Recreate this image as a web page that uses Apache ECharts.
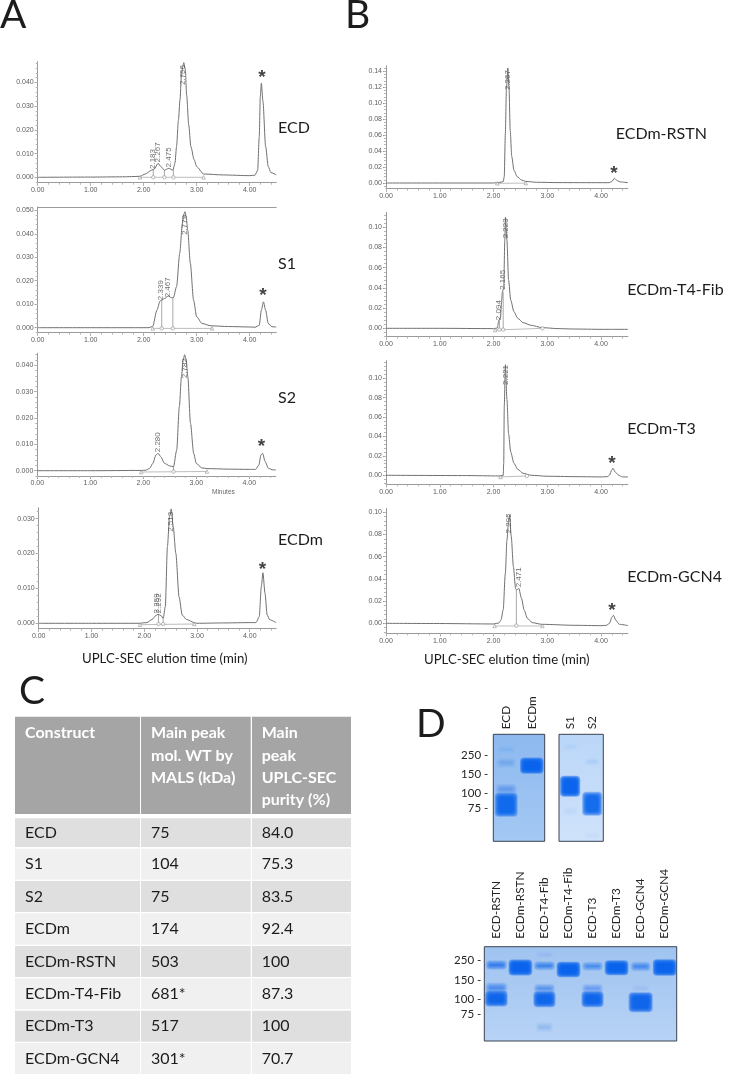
<!DOCTYPE html>
<html><head><meta charset="utf-8">
<style>html,body{margin:0;padding:0;background:#fff}#c{width:729px;height:1075px}</style>
<script src="https://cdn.jsdelivr.net/npm/echarts@6/dist/echarts.min.js"></script>
</head><body><div id="c"></div>
<script>
// ---- chromatogram traces: [minutes, absorbance]
const ecdTrace=[[0,0],[1,0.0001],[1.6,0.0002],[1.93,0.0004],[2.03,0.0014],[2.15,0.003],[2.2,0.0035],[2.27,0.0059],[2.33,0.0044],[2.39,0.003],[2.475,0.0038],[2.55,0.003],[2.59,0.006],[2.62,0.013],[2.655,0.024],[2.685,0.0326],[2.71,0.042],[2.735,0.0465],[2.756,0.0483],[2.785,0.0455],[2.81,0.0346],[2.85,0.022],[2.89,0.013],[2.95,0.0075],[3,0.0045],[3.13,0.0014],[3.5,0.001],[4,0.0007],[4.1,0.0009],[4.15,0.003],[4.18,0.017],[4.2,0.034],[4.22,0.0396],[4.25,0.032],[4.3,0.013],[4.35,0.0045],[4.4,0.002],[4.5,0.001]];
const s1Trace=[[0,0],[1,0],[2.1,0],[2.17,0.0006],[2.25,0.0075],[2.31,0.0114],[2.339,0.0118],[2.4,0.0125],[2.467,0.0135],[2.52,0.0128],[2.56,0.0128],[2.62,0.0175],[2.68,0.0317],[2.73,0.0445],[2.755,0.0482],[2.78,0.0494],[2.805,0.0465],[2.83,0.0416],[2.88,0.0274],[2.94,0.0118],[3,0.0047],[3.1,0.0018],[3.27,0.0008],[3.6,0.0005],[4,0.0003],[4.1,0.0002],[4.18,0.001],[4.22,0.0075],[4.26,0.011],[4.3,0.0075],[4.35,0.0018],[4.42,0.0004],[4.5,0.0003]];
const s2Trace=[[0,0],[1,0],[1.96,0.0001],[2.05,0.0002],[2.12,0.0009],[2.18,0.0028],[2.24,0.006],[2.28,0.0066],[2.33,0.0053],[2.4,0.0028],[2.5,0.0018],[2.57,0.0015],[2.63,0.0078],[2.68,0.0243],[2.72,0.0357],[2.75,0.0418],[2.78,0.044],[2.81,0.0418],[2.84,0.0357],[2.89,0.018],[2.95,0.0066],[3,0.0028],[3.1,0.0011],[3.2,0.0008],[3.6,0.0006],[4,0.0005],[4.12,0.0005],[4.18,0.0021],[4.22,0.006],[4.25,0.0066],[4.3,0.0034],[4.36,0.0009],[4.45,0.0003],[4.5,0.0003]];
const ecdmTrace=[[0,0],[1,0],[1.9,0],[2.05,0.0002],[2.15,0.0011],[2.22,0.0022],[2.26,0.0026],[2.32,0.0022],[2.36,0.0014],[2.4,0.0048],[2.44,0.022],[2.48,0.0306],[2.513,0.0328],[2.55,0.0277],[2.6,0.02],[2.66,0.0076],[2.72,0.0024],[2.8,0.0011],[2.95,0.0002],[3,0],[3.5,0.0001],[4,0.0002],[4.12,0.0002],[4.18,0.0019],[4.22,0.0105],[4.25,0.0145],[4.29,0.0086],[4.33,0.0024],[4.38,0.001],[4.5,0.0002]];
const rstnTrace=[[0,0],[1,0],[2,0],[2.12,0.0008],[2.18,0.0017],[2.2,0.008],[2.22,0.062],[2.24,0.117],[2.267,0.144],[2.29,0.117],[2.31,0.066],[2.34,0.033],[2.38,0.016],[2.44,0.008],[2.52,0.0038],[2.6,0.002],[2.8,0.0009],[3.2,0.0005],[4,0.0004],[4.15,0.0004],[4.2,0.0017],[4.25,0.0058],[4.3,0.003],[4.36,0.0013],[4.5,0.0004]];
const t4Trace=[[0,0],[1,0],[2,-0.0003],[2.07,0.0003],[2.1,0.008],[2.13,0.011],[2.15,0.026],[2.165,0.036],[2.19,0.04],[2.21,0.087],[2.223,0.11],[2.25,0.087],[2.28,0.048],[2.32,0.028],[2.38,0.0165],[2.45,0.01],[2.55,0.0056],[2.7,0.003],[2.9,0.0007],[3.2,-0.0003],[3.5,-0.0007],[4,-0.001],[4.5,-0.001]];
const t3Trace=[[0,0],[1.5,-0.0003],[2.1,-0.0007],[2.18,-0.0003],[2.19,0.0124],[2.2,0.071],[2.221,0.114],[2.25,0.078],[2.28,0.043],[2.32,0.024],[2.38,0.0124],[2.45,0.0062],[2.55,0.002],[2.7,0],[3,-0.001],[3.5,-0.0014],[4,-0.0017],[4.12,-0.0014],[4.16,0.0003],[4.2,0.0055],[4.22,0.0072],[4.27,0.003],[4.33,0],[4.4,-0.0017],[4.5,-0.0017]];
const gcn4Trace=[[0,0],[1,-0.0002],[2,-0.0006],[2.1,0.0003],[2.14,0.003],[2.18,0.012],[2.22,0.045],[2.25,0.075],[2.28,0.0916],[2.3,0.0976],[2.33,0.078],[2.37,0.051],[2.41,0.0315],[2.43,0.03],[2.471,0.0315],[2.52,0.0225],[2.57,0.012],[2.63,0.0045],[2.72,0.0006],[2.9,-0.0009],[3.5,-0.0018],[4,-0.0021],[4.1,-0.0018],[4.16,0],[4.2,0.0054],[4.23,0.0072],[4.28,0.0024],[4.34,-0.0009],[4.5,-0.002]];
// ---- printed retention-time labels: [minutes, absorbance, text]
const ecdPeaks=[[2.17,0.0077,'2.183'],[2.26,0.0105,'2.267'],[2.465,0.0084,'2.475'],[2.736,0.0431,'2.756']];
const s1Peaks=[[2.327,0.016,'2.339'],[2.453,0.0172,'2.467'],[2.774,0.0438,'2.779']];
const s2Peaks=[[2.27,0.0108,'2.280'],[2.786,0.0389,'2.782']];
const ecdmPeaks=[[2.24,0.0057,'2.259'],[2.28,0.0057,'2.292'],[2.51,0.0291,'2.513']];
const rstnPeaks=[[2.257,0.129,'2.267']];
const t4Peaks=[[2.09,0.018,'2.094'],[2.164,0.048,'2.165'],[2.226,0.099,'2.223']];
const t3Peaks=[[2.22,0.1034,'2.221']];
const gcn4Peaks=[[2.276,0.09,'2.295'],[2.462,0.0414,'2.471']];
// ---- integration boundaries: [minutes, absorbance, split?]
const ecdMarks=[[1.93,0,0],[2.18,0,1],[2.39,0,1],[2.56,0,1],[3.13,0,0]];
const s1Marks=[[2.17,-0.0003,0],[2.34,-0.0003,1],[2.55,-0.0003,1],[3.29,-0.0003,0]];
const s2Marks=[[1.96,-0.0005,0],[2.57,-0.0003,1],[3.2,-0.0003,0]];
const ecdmMarks=[[1.92,-0.0004,0],[2.27,-0.0002,1],[2.36,-0.0002,1],[2.95,-0.0002,0]];
const rstnMarks=[[2.07,-0.0004,0],[2.6,-0.0001,0]];
const t4Marks=[[2.03,-0.0017,0],[2.11,-0.0013,1],[2.18,-0.0013,1],[2.91,0,1]];
const t3Marks=[[2.13,-0.0017,0],[2.62,-0.0007,1]];
const gcn4Marks=[[2.02,-0.0024,0],[2.425,-0.0021,1],[2.91,-0.0024,0]];
// ---- drop lines from trace to baseline: [minutes, top absorbance]
const ecdDrops=[[2.18,0.0033],[2.39,0.003],[2.56,0.003]];
const s1Drops=[[2.34,0.0118],[2.55,0.0128]];
const s2Drops=[[2.57,0.0015]];
const ecdmDrops=[[2.27,0.0026],[2.36,0.0014]];
const rstnDrops=[];
const t4Drops=[[2.11,0.009],[2.18,0.036]];
const t3Drops=[];
const gcn4Drops=[[2.425,0.03]];
// ---- asterisk positions [minutes, absorbance]
const ecdStar=[4.232,0.0431], s1Star=[4.25,0.0148], s2Star=[4.23,0.0101], ecdmStar=[4.243,0.0161];
const rstnStar=[4.24,0.015], t3Star=[4.205,0.0147], gcn4Star=[4.205,0.0138];
// ---- axes
const timeTicks=[0,1,2,3,4];
const yTicksA=[0,0.01,0.02,0.03,0.04];
const yTicksS1=[0,0.01,0.02,0.03,0.04,0.05];
const yTicksM=[0,0.01,0.02,0.03];
const yTicksB14=[0,0.02,0.04,0.06,0.08,0.1,0.12,0.14];
const yTicksB10=[0,0.02,0.04,0.06,0.08,0.1];
// ---- table
const tableHead=[['Construct'],['Main peak','mol. WT by','MALS (kDa)'],['Main','peak','UPLC-SEC','purity (%)']];
const constructs=['ECD','S1','S2','ECDm','ECDm-RSTN','ECDm-T4-Fib','ECDm-T3','ECDm-GCN4'];
const malsKDa=['75','104','75','174','503','681*','517','301*'];
const purity=['84.0','75.3','83.5','92.4','100','87.3','100','70.7'];
// ---- gels. Bands: [lane, top, bottom, strength, width fraction]; top/bottom = migration distance from the top of the gel
const gel1Lanes=['ECD','ECDm'];
const gel2Lanes=['S1','S2'];
const gel3Lanes=['ECD-RSTN','ECDm-RSTN','ECD-T4-Fib','ECDm-T4-Fib','ECD-T3','ECDm-T3','ECD-GCN4','ECDm-GCN4'];
const gel1Ladder=[['250',20.7],['150',39.7],['100',58.7],['75',74]];
const gel2Ladder=[];
const gel3Ladder=[['250',13.6],['150',33.3],['100',52.3],['75',67.6]];
const gel1Bands=[[0,13,18,0.1,0.6],[0,25,32,0.2,0.65],[0,51,59,0.33,0.72],[0,60,81,0.92,0.78],[1,24.7,38,0.98,0.8]];
const gel2Bands=[[0,10,15,0.06,0.55],[0,43,61,0.98,0.78],[0,74,80,0.06,0.6],[1,25,30,0.1,0.55],[1,59,80,0.92,0.78],[1,99,103,0.05,0.6]];
const gel3Bands=[[0,15,21.6,0.7,0.76],[0,37.3,45,0.55,0.8],[0,45.6,58.3,0.95,0.82],[1,14.3,27.3,0.98,0.86],
 [2,16,22,0.66,0.76],[2,38.5,45,0.5,0.76],[2,46,59,0.95,0.8],[2,77,84,0.18,0.62],[2,6,10,0.07,0.62],[3,16.5,29,0.98,0.86],
 [4,16.5,22.5,0.58,0.74],[4,38.5,45,0.42,0.76],[4,46,59,0.95,0.8],[5,15,27,0.98,0.86],
 [6,16.5,23,0.6,0.72],[6,47,64,0.95,0.88],[6,39,44,0.07,0.62],[7,14,27.5,0.98,0.86]];

const panels=[
 {trace:ecdTrace,peaks:ecdPeaks,marks:ecdMarks,drops:ecdDrops,star:ecdStar,l:37.7,w:238.5,t:61.7,b:182.7,min:-0.00227,max:0.0487,ticks:yTicksA,minor:0.002,dp:3},
 {trace:s1Trace,peaks:s1Peaks,marks:s1Marks,drops:s1Drops,star:s1Star,l:37.7,w:238.5,t:207,b:332.7,min:-0.00213,max:0.0514,ticks:yTicksS1,minor:0.002,dp:3,topLine:true},
 {trace:s2Trace,peaks:s2Peaks,marks:s2Marks,drops:s2Drops,star:s2Star,l:37.3,w:238.5,t:353.3,b:476,min:-0.00201,max:0.04455,ticks:yTicksA,minor:0.002,dp:3},
 {trace:ecdmTrace,peaks:ecdmPeaks,marks:ecdmMarks,drops:ecdmDrops,star:ecdmStar,l:38.7,w:237.4,t:507.7,b:628.7,min:-0.00155,max:0.03315,ticks:yTicksM,minor:0.002,dp:3},
 {trace:rstnTrace,peaks:rstnPeaks,marks:rstnMarks,drops:rstnDrops,star:rstnStar,l:386,w:241.9,t:65.7,b:188.7,min:-0.00714,max:0.147,ticks:yTicksB14,minor:0.004,dp:2},
 {trace:t4Trace,peaks:t4Peaks,marks:t4Marks,drops:t4Drops,star:null,l:386,w:241.9,t:212.3,b:336.7,min:-0.0083,max:0.1149,ticks:yTicksB10,minor:0.004,dp:2},
 {trace:t3Trace,peaks:t3Peaks,marks:t3Marks,drops:t3Drops,star:t3Star,l:386,w:241.9,t:360.7,b:484.3,min:-0.0093,max:0.1181,ticks:yTicksB10,minor:0.004,dp:2},
 {trace:gcn4Trace,peaks:gcn4Peaks,marks:gcn4Marks,drops:gcn4Drops,star:gcn4Star,l:386,w:241.9,t:508.3,b:633.3,min:-0.009,max:0.1036,ticks:yTicksB10,minor:0.004,dp:2}
];

const AX='#9a9a9a', TXT='#5c5c5c', TR='#707070', SANS='"Liberation Sans",Arial,sans-serif', CAL='Lato,"Open Sans",sans-serif';
const grid=[],xAxis=[],yAxis=[],series=[];
function steps(lo,hi,st){const a=[];for(let k=Math.ceil(lo/st);k*st<=hi+1e-9;k++)a.push(+(k*st).toFixed(5));return a;}

panels.forEach(p=>{
  const g=grid.length; grid.push({left:p.l,top:p.t,width:p.w,height:p.b-p.t,containLabel:false});
  const x0=xAxis.length,y0=yAxis.length;
  xAxis.push({type:'value',gridIndex:g,min:0,max:4.5,position:'bottom',splitLine:{show:false},
    axisLine:{show:true,onZero:false,lineStyle:{color:AX,width:1}},
    axisTick:{show:true,length:3,lineStyle:{color:AX},customValues:timeTicks},
    axisLabel:{show:true,customValues:timeTicks,margin:4,fontSize:7,color:TXT,fontFamily:SANS,formatter:v=>v.toFixed(2)}});
  xAxis.push({type:'value',gridIndex:g,min:0,max:4.5,position:'bottom',splitLine:{show:false},axisLine:{show:false,onZero:false},
    axisTick:{show:true,length:2,lineStyle:{color:'#b5b5b5'},customValues:steps(0,4.5,0.2)},axisLabel:{show:false}});
  yAxis.push({type:'value',gridIndex:g,min:p.min,max:p.max,position:'left',splitLine:{show:false},
    axisLine:{show:true,onZero:false,lineStyle:{color:AX,width:1}},
    axisTick:{show:true,length:3,lineStyle:{color:AX},customValues:p.ticks},
    axisLabel:{show:true,customValues:p.ticks,margin:4,fontSize:7,color:TXT,fontFamily:SANS,formatter:v=>v.toFixed(p.dp)}});
  yAxis.push({type:'value',gridIndex:g,min:p.min,max:p.max,position:'left',splitLine:{show:false},axisLine:{show:false,onZero:false},
    axisTick:{show:true,length:2,lineStyle:{color:'#b5b5b5'},customValues:steps(p.min,p.max,p.minor)},axisLabel:{show:false}});
  if(p.topLine) xAxis.push({type:'value',gridIndex:g,min:0,max:4.5,position:'top',splitLine:{show:false},
    axisLine:{show:true,onZero:false,lineStyle:{color:AX,width:1}},axisTick:{show:false},axisLabel:{show:false}});
  const base={xAxisIndex:x0,yAxisIndex:y0,animation:false,silent:true};
  const bl=p.marks.map(m=>[m[0],m[1]]);
  series.push({...base,type:'line',data:[bl[0],bl[bl.length-1]],showSymbol:false,lineStyle:{color:'#bdbdbd',width:1},z:2});
  p.drops.forEach(d=>series.push({...base,type:'line',data:[[d[0],d[1]],[d[0],p.marks[0][1]]],showSymbol:false,lineStyle:{color:'#a8a8a8',width:1},z:2}));
  series.push({...base,type:'line',data:p.trace,showSymbol:false,smooth:0.25,smoothMonotone:'x',lineStyle:{color:TR,width:1},z:3});
  series.push({...base,type:'scatter',data:p.marks,symbol:(v)=>v[2]?'circle':'triangle',symbolSize:3.5,
    itemStyle:{color:'#fff',borderColor:'#8a8a8a',borderWidth:0.7},z:4});
  series.push({...base,type:'scatter',data:p.peaks,symbolSize:0,
    label:{show:true,position:'inside',rotate:90,fontSize:8,color:'#4a4a4a',fontFamily:SANS,formatter:o=>o.value[2]},z:5});
  if(p.star) series.push({...base,type:'scatter',data:[p.star],symbolSize:0,
    label:{show:true,position:'inside',fontSize:19,fontWeight:'bold',color:'#111',fontFamily:SANS,offset:[0,3],formatter:'*'},z:5});
});

// gels
function gel(lanes,ladder,bands,l,t,w,h,bgTop,bgBottom,labelMargin,ladderMargin){
  const g=grid.length;
  grid.push({left:l,top:t,width:w,height:h,show:true,
    backgroundColor:new echarts.graphic.LinearGradient(0,0,0,1,[{offset:0,color:bgTop},{offset:1,color:bgBottom}]),
    borderColor:'#3a4250',borderWidth:1});
  const xi=xAxis.length,yi=yAxis.length;
  xAxis.push({type:'category',gridIndex:g,data:lanes,position:'top',boundaryGap:true,
    axisLine:{show:false},axisTick:{show:false},splitLine:{show:false},
    axisLabel:{show:true,interval:0,rotate:90,margin:labelMargin,fontSize:11.8,color:'#262626',fontFamily:CAL}});
  const vals=ladder.map(r=>r[1]);
  yAxis.push({type:'value',gridIndex:g,inverse:true,min:0,max:h,splitLine:{show:false},axisLine:{show:false},axisTick:{show:false},
    axisLabel:{show:vals.length>0,customValues:vals,margin:ladderMargin,fontSize:11.5,color:'#262626',fontFamily:CAL,
      formatter:v=>{const r=ladder.find(q=>q[1]===v);return r?r[0]+' -':'';}}});
  series.push({type:'custom',xAxisIndex:xi,yAxisIndex:yi,animation:false,silent:true,clip:true,
    encode:{x:0,y:[1,2]},data:bands,
    renderItem:(params,api)=>{
      const a=api.coord([api.value(0),api.value(1)]),b=api.coord([api.value(0),api.value(2)]);
      const bw=api.size([1,0])[0]*api.value(4),s=api.value(3);
      // soft edge: stacked translucent layers, each slightly inset
      const N=7, alpha=1-Math.pow(1-s,1/N), kids=[];
      for(let k=0;k<N;k++){
        const ins=-1.5+k*0.75, hh=Math.max(1,b[1]-a[1]-2*ins);
        kids.push({type:'rect',shape:{x:a[0]-bw/2+ins,y:(a[1]+b[1])/2-hh/2,width:Math.max(1,bw-2*ins),height:hh,r:4},
          style:{fill:'rgba(8,98,236,'+alpha+')'}});
      }
      return {type:'group',children:kids};
    }});
}
gel(gel1Lanes,gel1Ladder,gel1Bands,493.3,734.3,51.4,107,'#8db9f0','#a4c8f3',5,5);
gel(gel2Lanes,gel2Ladder,gel2Bands,559,734.3,44.3,107,'#bad6f8','#cfe2fa',5,5);
gel(gel3Lanes,gel3Ladder,gel3Bands,484.3,946.7,192.4,94.3,'#9fc3f0','#b8d3f6',8,3);

// text and table
const graphic=[];
function txt(s,x,y,size,o){graphic.push({type:'text',silent:true,x:x,y:y,style:Object.assign({text:s,fontSize:size,fontFamily:CAL,fill:'#1c1c1c',textAlign:'left',textVerticalAlign:'middle'},o||{})});}
txt('A',0,15,39); txt('B',345,15,39); txt('C',19,691,39); txt('D',416,724,39);
[['ECD',278,128],['S1',278,264],['S2',278,398],['ECDm',278,540],['ECDm-RSTN',615.7,134],['ECDm-T4-Fib',627.3,290],['ECDm-T3',627.3,429],['ECDm-GCN4',627.3,576.7]]
 .forEach(r=>txt(r[0],r[1],r[2],16));
txt('UPLC-SEC elution time (min)',82,659,13.2); txt('UPLC-SEC elution time (min)',424,660,13.2);
txt('Minutes',212,492.7,6.5,{fill:'#666',fontFamily:SANS});
const cols=[[15,140],[141,250.7],[252,351]], textX=[25,151,261.7];
const rows=[[818.3,847],[848.7,879.7],[881,912],[913.3,944.7],[946,977],[978.3,1009.3],[1010.7,1041.7],[1043,1074]];
cols.forEach((c,i)=>{
  graphic.push({type:'rect',silent:true,shape:{x:c[0],y:716.7,width:c[1]-c[0],height:97.3},style:{fill:'#a5a5a5'}});
  tableHead[i].forEach((s,k)=>txt(s,textX[i],733+k*22.4,16,{fill:'#fff',fontWeight:'bold'}));
  rows.forEach((r,j)=>graphic.push({type:'rect',silent:true,shape:{x:c[0],y:r[0],width:c[1]-c[0],height:r[1]-r[0]},style:{fill:j%2?'#f0f0f0':'#dfdfdf'}}));
});
rows.forEach((r,j)=>{const y=(r[0]+r[1])/2;
  txt(constructs[j],textX[0],y,16);txt(malsKDa[j],textX[1],y,16);txt(purity[j],textX[2],y,16);});

const chart=echarts.init(document.getElementById('c'),null,{renderer:'canvas',width:729,height:1075});
chart.setOption({animation:false,backgroundColor:'#fff',grid,xAxis,yAxis,series,graphic:{elements:graphic}});
</script></body></html>
